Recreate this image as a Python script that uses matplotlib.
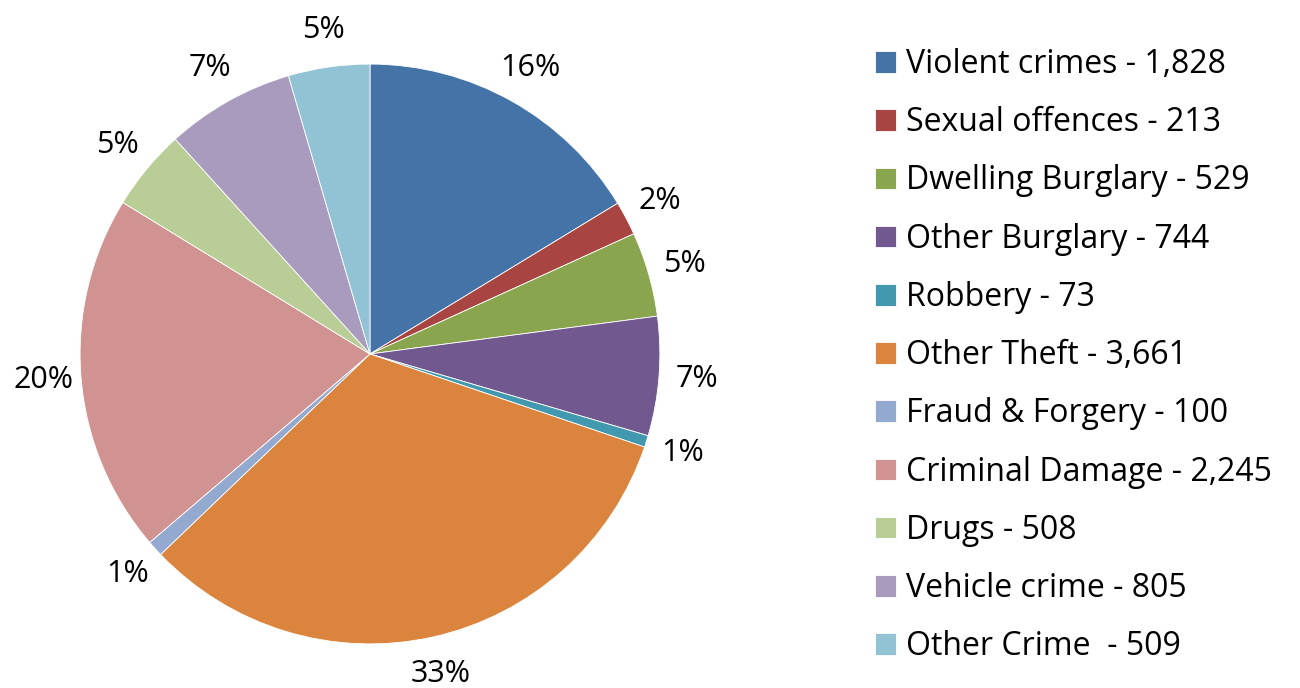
import matplotlib
matplotlib.use('Agg')
from matplotlib import pyplot as plt

categories = ['Violent crimes', 'Sexual offences', 'Dwelling Burglary', 'Other Burglary',
              'Robbery', 'Other Theft', 'Fraud & Forgery', 'Criminal Damage',
              'Drugs', 'Vehicle crime', 'Other Crime ']
counts = [1828, 213, 529, 744, 73, 3661, 100, 2245, 508, 805, 509]
colors = ['#4473A8', '#A84542', '#89A54E', '#71588F', '#4198AF', '#DB843D',
          '#93A9CF', '#D19392', '#B9CD96', '#A99BBD', '#92C3D4']

plt.rcParams['font.family'] = ['Open Sans', 'DejaVu Sans']

fig = plt.figure(figsize=(13, 6.88), dpi=100)
ax = fig.add_axes([0.2846 - 0.223, 0.4855 - 0.4215, 0.446, 0.843])

wedges, texts, autotexts = ax.pie(counts, colors=colors, startangle=90, counterclock=False,
                                  autopct='%1.0f%%', pctdistance=1.13,
                                  wedgeprops=dict(edgecolor='white', linewidth=0.6))
for t in autotexts:
    t.set_fontsize(22)
ax.set_xlim(-1, 1)
ax.set_ylim(-1, 1)
ax.set_aspect('equal')

labels = ['{} - {:,}'.format(c, n) for c, n in zip(categories, counts)]
fig.legend(wedges, labels, loc='upper left', bbox_to_anchor=(0.651, 0.972),
           frameon=False, fontsize=23, labelspacing=0.79, handlelength=0.66,
           handleheight=0.66, handletextpad=0.3)

plt.savefig('out.png', dpi=100)
